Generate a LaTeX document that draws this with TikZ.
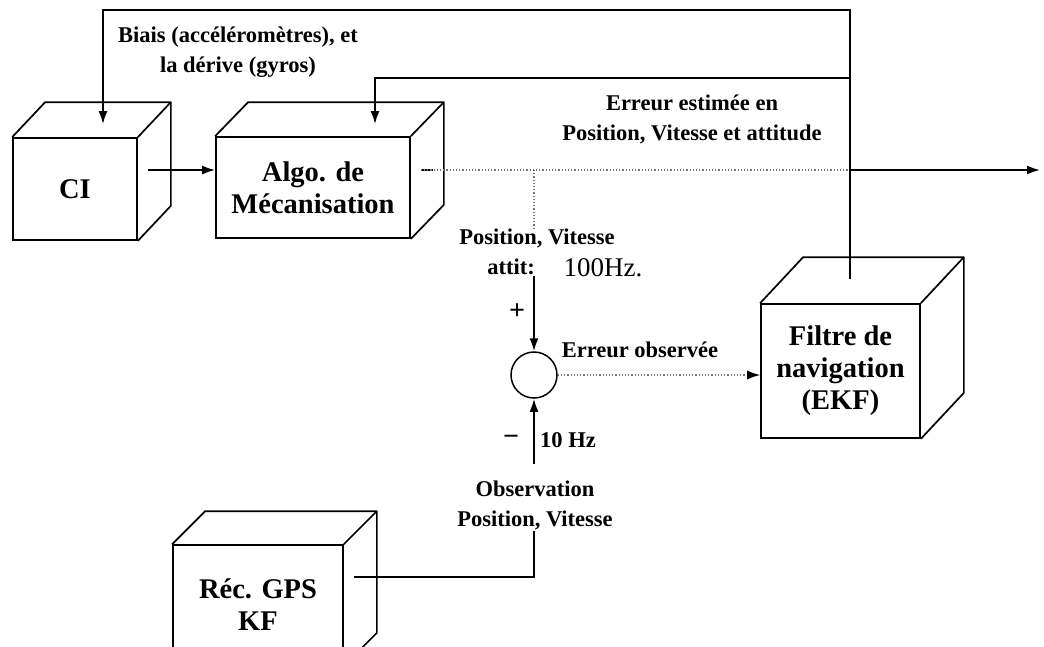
\documentclass[tikz,border=0pt]{standalone}
\usepackage{fontspec}
\setmainfont{Liberation Serif}
\usetikzlibrary{calc,arrows.meta}
\newcommand\cubefaces[3]{%
  \draw[edge] (#1.north west) -- ++(#2,#3) -- ($(#1.north east)+(#2,#3)$) -- ($(#1.south east)+(#2,#3)$) -- (#1.south east);
  \draw[edge] (#1.north east) -- ++(#2,#3);}
\tikzset{
  boxface/.style={draw, line width=1.7pt, fill=white, inner sep=0pt, align=center,
    font=\fontsize{28.5}{32}\selectfont\bfseries},
  edge/.style={line width=1.7pt, line join=round},
  conn/.style={line width=1.9pt},
  faint/.style={line width=1.2pt, dotted, black!55},
  arr/.style={-{Latex[length=13pt,width=9pt,color=black]}},
  lbl/.style={font=\fontsize{22.5}{30}\selectfont\bfseries, align=center, inner sep=1pt},
  sumnode/.style={circle, draw, line width=1.5pt, minimum size=46pt, inner sep=0pt}
}
\begin{document}
\begin{tikzpicture}[x=1pt,y=-1pt]
\useasboundingbox (0,0) rectangle (1044,646);
\clip (0,0) rectangle (1044,646);
% boxes
\node[boxface, minimum width=124pt, minimum height=102pt] (ci) at (75,189) {CI};
\cubefaces{ci}{33}{-35}
\node[boxface, minimum width=194pt, minimum height=101pt] (algo) at (313,187.5) {Algo. de\\Mécanisation};
\cubefaces{algo}{33}{-34}
\node[boxface, minimum width=159pt, minimum height=134pt] (ekf) at (840.5,371) {Filtre de\\navigation\\(EKF)};
\cubefaces{ekf}{43}{-46}
\node[boxface, minimum width=170pt, minimum height=120pt] (gps) at (258,605) {Réc. GPS\\KF};
\cubefaces{gps}{33}{-33}
% summing junction
\node[sumnode] (sum) at (534,375) {};
% labels
\node[lbl] (biais) at (238,52) {Biais (accéléromètres), et\\la dérive (gyros)};
\node[lbl] (err) at (692,119) {Erreur estimée en\\Position, Vitesse et attitude};
\node[lbl] (pv) at (537,252) {Position, Vitesse\\attit:\hspace*{52pt}};
\node[lbl, font=\fontsize{28}{30}\selectfont\bfseries] (plus) at (517,312) {+};
\node[font=\fontsize{27}{30}\selectfont, inner sep=1pt] (hz100) at (603,268) {100Hz.};
\node[lbl, font=\fontsize{28}{30}\selectfont\bfseries] (minus) at (511,440) {−};
\node[lbl] (hz10) at (568,440) {10 Hz};
\node[lbl] (obs) at (535,505) {Observation\\Position, Vitesse};
\node[lbl] (eobs) at (640,350) {Erreur observée};
% connectors
\coordinate (ciin) at ($(ci.north)+(28,-13)$);
\coordinate (algoin) at ($(algo.north)+(62,-12)$);
\coordinate (ekfup) at ($(ekf.north)+(9.5,-24)$);
\coordinate (topR) at (ekfup |- 0,10);
\coordinate (topL) at (ciin |- topR);
\draw[conn, arr] (ekfup) -- (topR) -- (topL) -- (ciin);
\coordinate (midR) at (ekfup |- 0,78);
\draw[conn, arr] (midR) -| (algoin);
\coordinate (ciout) at ($(ci.east)+(10,-19)$);
\draw[conn, arr] (ciout) -- (ciout -| algo.west);
\coordinate (algoout) at ($(algo.east)+(10,-17.5)$);
\coordinate (cross) at (ekfup |- algoout);
\coordinate (out) at (1040,170);
\draw[conn] (algoout) -- ++(12,0);
\draw[faint] (algoout) -- (cross);
\draw[conn, arr] (cross) -- (out);
\coordinate (tap) at (sum |- algoout);
\draw[faint] (tap) -- (tap |- pv.north);
\draw[conn, arr] (sum.north |- pv.south) -- (sum.north);
\coordinate (minstart) at ($(sum.south)+(0,65)$);
\draw[conn, arr] (minstart) -- (sum.south);
\coordinate (gpsout) at ($(gps.east)+(10,-28)$);
\draw[conn] (gpsout) -| (sum |- obs.south);
\draw[faint, arr] (sum.east) -- (sum.east -| ekf.west);
\end{tikzpicture}
\end{document}
